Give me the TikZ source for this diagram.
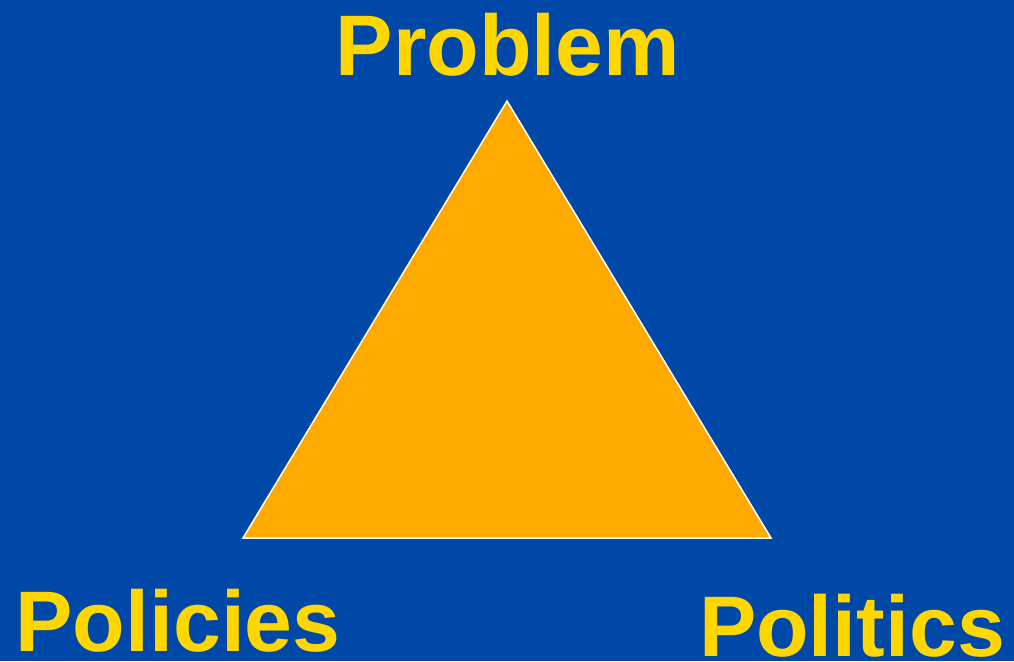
\documentclass[tikz,border=0pt]{standalone}
\usepackage{fontspec}
\setmainfont{Liberation Sans}
\usepackage{xcolor}
\definecolor{slideblue}{HTML}{0048A8}
\definecolor{triorange}{HTML}{FFAA00}
\definecolor{labelyellow}{HTML}{FFD700}

\begin{document}
\begin{tikzpicture}[x=1pt,y=-1pt,
  corner/.style={text=labelyellow,font=\fontsize{86}{90}\selectfont\bfseries,anchor=base,inner sep=0pt}]
  \fill[slideblue] (0,0) rectangle (1014,661);
  \useasboundingbox (0,0) rectangle (1014,661);
  \coordinate (apex) at (507,101);
  \coordinate (left) at (243,538);
  \coordinate (right) at (771,538);
  \fill[triorange,draw=white,line width=1.5pt,line join=miter] (apex) -- (left) -- (right) -- cycle;
  \node[corner] (problem) at (508,75) {Problem};
  \node[corner] (policies) at (178,651) {Policies};
  \node[corner] (politics) at (852,656) {Politics};
\end{tikzpicture}
\end{document}
